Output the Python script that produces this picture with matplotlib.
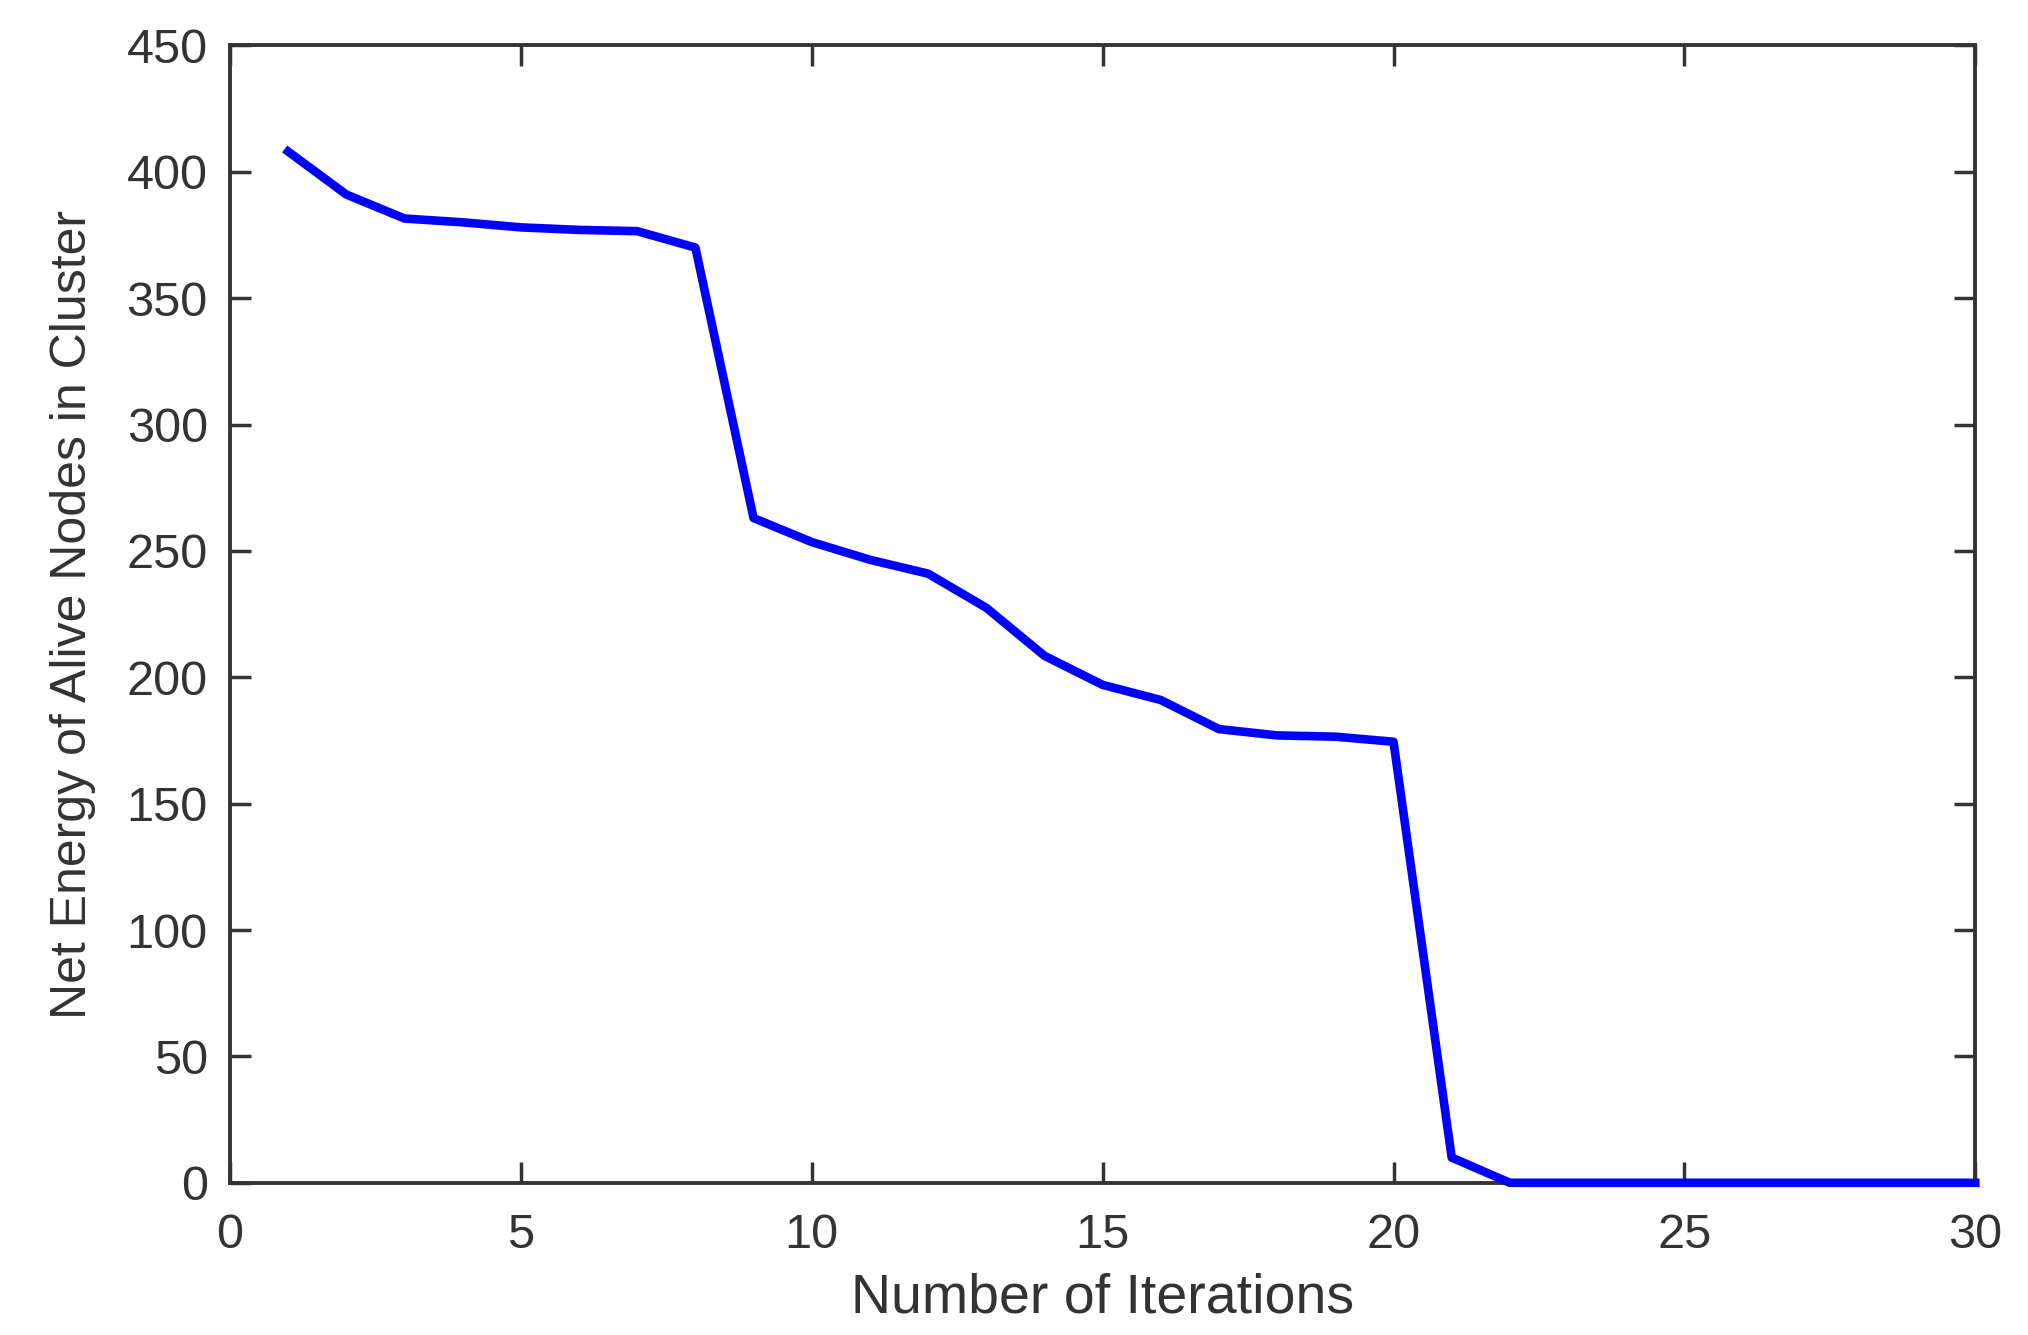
import matplotlib
matplotlib.use("Agg")
import matplotlib.pyplot as plt

# one value per iteration
iterations = list(range(1, 31))
net_energy = [408, 391, 381.5, 380, 378, 377, 376.5, 370, 263, 253.5,
              246.5, 241, 227.5, 208.5, 197, 191, 179.5, 177, 176.5, 174.5,
              10, 0, 0, 0, 0, 0, 0, 0, 0, 0]
xticks = [0, 5, 10, 15, 20, 25, 30]
yticks = list(range(0, 451, 50))

GREY = "#333333"
plt.rcParams["font.family"] = ["Liberation Sans", "DejaVu Sans"]

fig = plt.figure(figsize=(20.28, 13.35), dpi=100)
ax = fig.add_axes([0.1134, 0.114, 0.8606, 0.852])
ax.plot(iterations, net_energy, color="#0000ff", lw=6.2, clip_on=False, zorder=3)
ax.set_xlim(0, 30); ax.set_ylim(0, 450)
ax.set_xticks(xticks); ax.set_yticks(yticks)
ax.tick_params(direction="in", length=15, width=2.5, colors=GREY, labelsize=35,
               top=True, right=True)
ax.tick_params(axis="x", pad=22)
ax.tick_params(axis="y", pad=16)
for s in ax.spines.values():
    s.set_color(GREY); s.set_linewidth(2.8)
ax.set_xlabel("Number of Iterations", fontsize=40, color=GREY, labelpad=10)
ax.set_ylabel("Net Energy of Alive Nodes in Cluster", fontsize=36, color=GREY, labelpad=22)
fig.savefig("out.png", dpi=100, facecolor="white")
